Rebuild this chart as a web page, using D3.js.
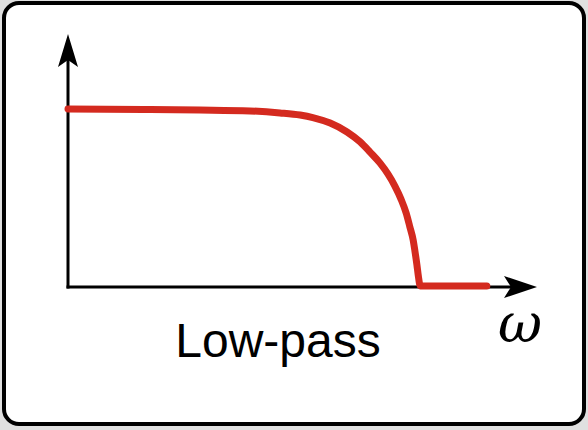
<!DOCTYPE html>
<html><head><meta charset="utf-8">
<script src="https://cdn.jsdelivr.net/npm/d3@7/dist/d3.min.js"></script>
<style>html,body{margin:0;padding:0;background:#e0e0e0;}svg{display:block;}</style>
</head><body>
<svg id="c" width="588" height="430"></svg>
<script>
// Normalized frequency (ω) and gain values of the low-pass response curve
const omega = [0, 0.175, 0.281, 0.388, 0.452, 0.495, 0.522, 0.559, 0.595, 0.623, 0.644, 0.665, 0.682, 0.697, 0.710, 0.721, 0.729, 0.736, 0.740, 0.744, 0.747, 0.751, 0.893];
const gain  = [1.0, 0.997, 0.994, 0.989, 0.978, 0.966, 0.952, 0.921, 0.871, 0.815, 0.758, 0.697, 0.635, 0.567, 0.494, 0.416, 0.337, 0.264, 0.197, 0.124, 0.062, 0.006, 0.006];
const titleText = ["Low-pass"];
const axisLabel = ["ω"];

const svg = d3.select("#c");

// frame
svg.append("rect").attr("x", 4).attr("y", 3).attr("width", 580).attr("height", 421)
  .attr("rx", 15).attr("ry", 15).attr("fill", "#fff").attr("stroke", "#000").attr("stroke-width", 4);

const x = d3.scaleLinear().domain([0, 1]).range([68, 537]);
const y = d3.scaleLinear().domain([0, 1]).range([287, 109]);

// arrowheads
function arrow(tipX, tipY, dir) {
  const L = 33, Wd = 10, notch = 7;
  let pts;
  if (dir === "up") {
    pts = [[tipX, tipY], [tipX + Wd, tipY + L], [tipX, tipY + L - notch], [tipX - Wd, tipY + L]];
  } else {
    pts = [[tipX, tipY], [tipX - L, tipY + Wd + 1], [tipX - L + notch, tipY], [tipX - L, tipY - Wd - 1]];
  }
  svg.append("path").attr("d", "M" + pts.map(p => p.join(",")).join("L") + "Z").attr("fill", "#000");
}

// axes
svg.append("line").attr("x1", x(0)).attr("y1", y(0) + 1.5).attr("x2", x(0)).attr("y2", 50)
  .attr("stroke", "#000").attr("stroke-width", 3);
svg.append("line").attr("x1", x(0) - 1.5).attr("y1", y(0)).attr("x2", x(1) - 20).attr("y2", y(0))
  .attr("stroke", "#000").attr("stroke-width", 3);
arrow(x(0), 34, "up");
arrow(x(1), y(0), "right");

// curve
const data = omega.map((w, i) => ({w, g: gain[i]}));
const line = d3.line().x(d => x(d.w)).y(d => y(d.g)).curve(d3.curveMonotoneX);
svg.append("path").datum(data).attr("d", line).attr("fill", "none")
  .attr("stroke", "#d42a1f").attr("stroke-width", 7)
  .attr("stroke-linecap", "round").attr("stroke-linejoin", "miter");

// labels
svg.append("text").attr("x", 278).attr("y", 357).attr("text-anchor", "middle")
  .attr("font-family", "Liberation Sans, Arial, sans-serif").attr("font-size", 48)
  .attr("fill", "#000").text(titleText[0]);
svg.append("text").attr("x", 520).attr("y", 342).attr("text-anchor", "middle")
  .attr("font-family", "DejaVu Serif, serif").attr("font-style", "italic").attr("font-size", 54)
  .attr("fill", "#000").text(axisLabel[0]);
</script>
</body></html>
